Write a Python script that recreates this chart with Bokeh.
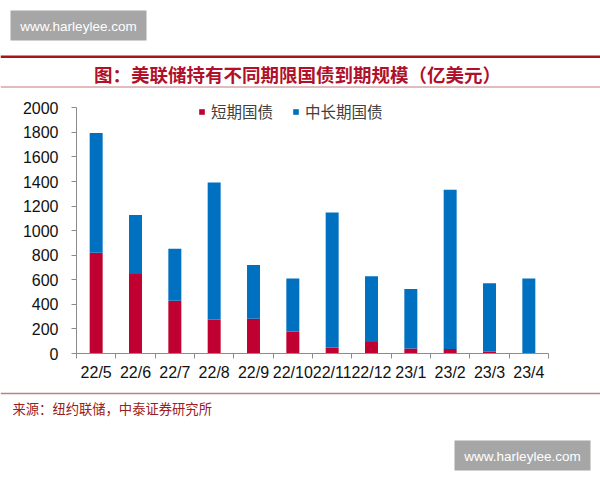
from bokeh.plotting import figure
from bokeh.layouts import column
from bokeh.models import (FactorRange, Range1d, LinearAxis, FixedTicker,
                          SingleIntervalTicker, Label, BoxAnnotation)
from bokeh.embed import file_html
from bokeh.resources import INLINE

# ---- data ----
categories = ["22/5", "22/6", "22/7", "22/8", "22/9", "22/10",
              "22/11", "22/12", "23/1", "23/2", "23/3", "23/4"]
short_term = [820, 647, 430, 277, 283, 179, 49, 93, 41, 36, 15, 0]
long_term = [975, 481, 423, 1114, 437, 432, 1098, 535, 484, 1296, 556, 611]
series_names = ["短期国债", "中长期国债"]
series_colors = ["#C00030", "#0070C0"]
y_ticks_step = 200
y_axis_max = 2000
title_text = "图：美联储持有不同期限国债到期规模（亿美元）"
source_text = "来源：纽约联储，中泰证券研究所"
watermark = "www.harleylee.com"

CJK = "Noto Sans CJK SC"
LAT = "Liberation Sans"
W = 600
TOP_H, MID_H, BOT_H = 88, 300, 92


def blank(h):
    f = figure(width=W, height=h, x_range=Range1d(0, W), y_range=Range1d(0, h),
               output_backend="svg", toolbar_location=None,
               x_axis_location=None, y_axis_location=None,
               min_border=0, min_border_left=0, min_border_right=0,
               min_border_top=0, min_border_bottom=0, frame_align=False)
    f.outline_line_color = None
    f.xgrid.visible = False
    f.ygrid.visible = False
    f.background_fill_color = "white"
    f.border_fill_color = "white"
    return f


def box(f, h, l, r, t, b, color):
    # t, b given as page-y measured downward inside the figure
    f.add_layout(BoxAnnotation(left=l, right=r, top=h - t, bottom=h - b,
                               fill_color=color, fill_alpha=1, line_color=None))


def text(f, h, x, y, s, color, font, size, align="center", style="normal"):
    f.add_layout(Label(x=x, y=h - y, text=s, text_align=align, text_baseline="middle",
                       text_color=color, text_font=font, text_font_size=size,
                       text_font_style=style))


# ---- top strip: watermark + title ----
top = blank(TOP_H)
box(top, TOP_H, 10, 146, 10, 40, "#a6a6a6")
text(top, TOP_H, 78, 25.5, watermark, "white", LAT, "13.5px")
box(top, TOP_H, 0, W, 55, 57.5, "#a8141e")
text(top, TOP_H, 297, 73, title_text, "#b0102a", CJK, "18.5px", style="bold")
box(top, TOP_H, 0, W, 86, 87, "#c47a7a")

# ---- chart ----
# the frame extends a little above 2000 so the legend is not clipped;
# the axis itself stops at 2000 (bounds)
p = figure(x_range=FactorRange(*categories, range_padding=0),
           y_range=Range1d(0, 2100),
           width=W, height=MID_H, output_backend="svg", toolbar_location=None,
           x_axis_location=None, frame_align=False,
           min_border_left=76, min_border_right=52, min_border_top=7, min_border_bottom=35)
p.outline_line_color = None
p.xgrid.visible = False
p.ygrid.visible = False
p.background_fill_color = "white"
p.border_fill_color = "white"

src = dict(cat=categories, s=short_term, l=long_term)
p.vbar_stack(["s", "l"], x="cat", width=0.33, source=src,
             color=series_colors, line_color=None,
             legend_label=series_names)

ya = p.yaxis[0]
ya.bounds = (0, y_axis_max)
ya.ticker = SingleIntervalTicker(interval=y_ticks_step)
ya.axis_line_color = "#8c8c8c"
ya.major_tick_line_color = "#8c8c8c"
ya.major_tick_out = 5
ya.major_tick_in = 0
ya.minor_tick_line_color = None
ya.major_label_standoff = 13
ya.major_label_text_font = LAT
ya.major_label_text_font_size = "16px"
ya.major_label_text_color = "#111111"

n = len(categories)
centers = [i + 0.5 for i in range(n)]
bounds = [float(i) for i in range(n + 1)]
xa = LinearAxis(ticker=FixedTicker(ticks=centers, minor_ticks=bounds),
                major_label_overrides={c: lab for c, lab in zip(centers, categories)})
xa.axis_line_color = "#8c8c8c"
xa.major_tick_line_color = None
xa.major_tick_out = 0
xa.major_tick_in = 0
xa.minor_tick_line_color = "#8c8c8c"
xa.minor_tick_out = 5
xa.minor_tick_in = 0
xa.major_label_standoff = 5
xa.major_label_text_font = LAT
xa.major_label_text_font_size = "16px"
xa.major_label_text_color = "#111111"
p.add_layout(xa, "below")

lg = p.legend[0]
lg.orientation = "horizontal"
lg.location = (122, 230)
lg.padding = 6
lg.margin = 0
lg.spacing = 19
lg.glyph_width = 7
lg.glyph_height = 7
lg.label_standoff = 6
lg.label_height = 24
lg.label_text_font = CJK
lg.label_text_font_size = "15.5px"
lg.label_text_color = "#404040"
lg.border_line_color = None
lg.background_fill_alpha = 0

# ---- bottom strip: source + watermark ----
bot = blank(BOT_H)
Y0 = TOP_H + MID_H  # page y of this strip's top
box(bot, BOT_H, 0, W, 393 - Y0 - 0.7, 393 - Y0 + 0.7, "#b58585")
text(bot, BOT_H, 12, 408 - Y0, source_text, "#9a2020", CJK, "13.3px", align="left")
box(bot, BOT_H, 454, 590, 440 - Y0, 470 - Y0, "#a6a6a6")
text(bot, BOT_H, 522, 455.5 - Y0, watermark, "white", LAT, "13.5px")

layout = column(top, p, bot, spacing=0)
open("out.html", "w").write(file_html(layout, INLINE))
